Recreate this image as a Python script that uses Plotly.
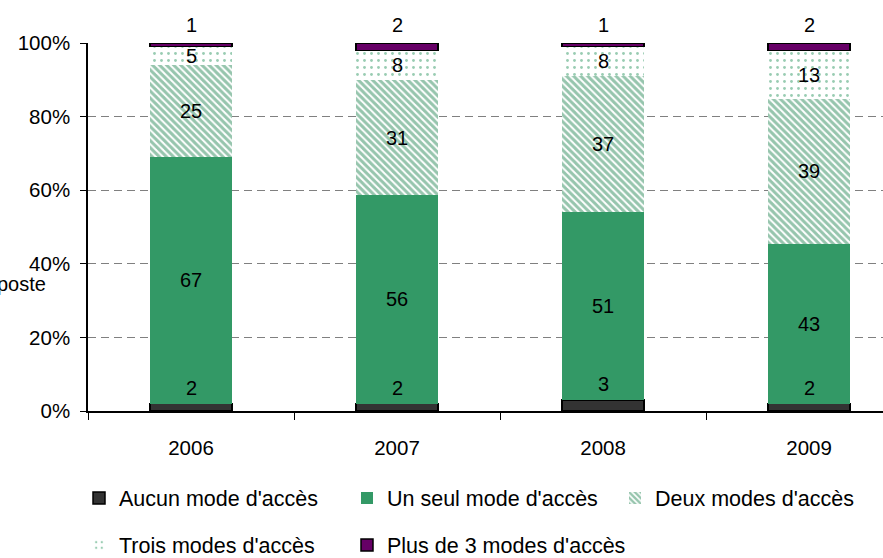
import plotly.graph_objects as go

years = ["2006", "2007", "2008", "2009"]
aucun = [2, 2, 3, 2]
un_seul = [67, 56, 51, 43]
deux = [25, 31, 37, 39]
trois = [5, 8, 8, 13]
plus3 = [1, 2, 1, 2]
tick_vals = [0, 20, 40, 60, 80, 100]
tick_text = ["0%", "20%", "40%", "60%", "80%", "100%"]

names = ["Aucun mode d'accès", "Un seul mode d'accès", "Deux modes d'accès",
         "Trois modes d'accès", "Plus de 3 modes d'accès"]
series = [aucun, un_seul, deux, trois, plus3]

GREEN = "#339966"
FONT = "Liberation Sans, Arial, sans-serif"

fig = go.Figure()
fig.add_trace(go.Bar(x=years, y=aucun, name=names[0], width=0.4,
                     marker=dict(color="#333333", line=dict(color="black", width=1.5)),
                     legend="legend"))
fig.add_trace(go.Bar(x=years, y=un_seul, name=names[1], width=0.4,
                     marker=dict(color=GREEN, line=dict(width=0)), legend="legend"))
fig.add_trace(go.Bar(x=years, y=deux, name=names[2], width=0.4,
                     marker=dict(color="white", line=dict(width=0),
                                 pattern=dict(shape="\\", fgcolor="#2e8b5c", bgcolor="white",
                                              size=5, solidity=0.6)),
                     legend="legend"))
fig.add_trace(go.Bar(x=years, y=trois, name=names[3], width=0.4,
                     marker=dict(color="white", line=dict(width=0),
                                 pattern=dict(shape=".", fgcolor=GREEN, bgcolor="white",
                                              size=7, solidity=0.13)),
                     legend="legend2"))
fig.add_trace(go.Bar(x=years, y=plus3, name=names[4], width=0.4, legendwidth=260,
                     marker=dict(color="#660066", line=dict(color="black", width=1.5)),
                     legend="legend2"))

W, H = 883, 558
ML, MR, MT, MB = 88, 0, 43, 147
PW, PH = W - ML - MR, H - MT - MB

# data labels, positioned from normalized cumulative values (x = category index)
annotations = []
for i, yr in enumerate(years):
    total = sum(s[i] for s in series)
    cum = 0
    for k, s in enumerate(series):
        pct = s[i] / total * 100
        if k == 0:
            annotations.append(dict(x=i, y=pct, text=str(s[i]), showarrow=False,
                                    yanchor="bottom", yshift=3, xref="x", yref="y"))
        elif k == len(series) - 1:
            annotations.append(dict(x=i, y=cum + pct, text=str(s[i]), showarrow=False,
                                    yanchor="bottom", yshift=5, xref="x", yref="y"))
        else:
            annotations.append(dict(x=i, y=cum + pct / 2, text=str(s[i]), showarrow=False,
                                    yanchor="middle", xref="x", yref="y"))
        cum += pct

annotations.append(dict(x=(48 - ML) / PW, y=(H - MB - 284) / PH, xref="paper", yref="paper",
                        text="poste", showarrow=False, xanchor="right", yanchor="middle",
                        font=dict(size=20, color="black")))

fig.update_layout(
    barmode="stack", barnorm="percent",
    width=W, height=H,
    margin=dict(l=ML, r=MR, t=MT, b=MB, autoexpand=False),
    plot_bgcolor="white", paper_bgcolor="white",
    font=dict(family=FONT, size=20, color="black"),
    annotations=annotations,
    legend=dict(orientation="h", x=(79 - ML) / PW, xanchor="left",
                y=(H - MB - 498) / PH, yanchor="middle",
                entrywidth=223, font=dict(size=21.5), bgcolor="rgba(0,0,0,0)",
                traceorder="normal"),
    legend2=dict(orientation="h", x=(79 - ML) / PW, xanchor="left",
                 y=(H - MB - 545) / PH, yanchor="middle",
                 entrywidth=223, font=dict(size=21.5), bgcolor="rgba(0,0,0,0)",
                 traceorder="normal"),
    xaxis=dict(type="category", range=[-0.5, 3.359], showline=True, linecolor="black",
               linewidth=1.5, ticks="outside", tickson="boundaries", ticklen=7,
               tickcolor="black", showgrid=False, tickfont=dict(size=20.5),
               ticklabelstandoff=18),
    yaxis=dict(range=[0, 100], tickvals=tick_vals, ticktext=tick_text,
               showline=True, linecolor="black", linewidth=1.5, ticks="outside",
               ticklen=6, tickcolor="black", showgrid=True, gridcolor="#808080",
               griddash="8px,5px", gridwidth=1, zeroline=False,
               tickfont=dict(size=20.5), ticklabelstandoff=6),
)

fig.write_html("out.html", config={"displayModeBar": False},
               post_script="document.body.style.margin='0';")
